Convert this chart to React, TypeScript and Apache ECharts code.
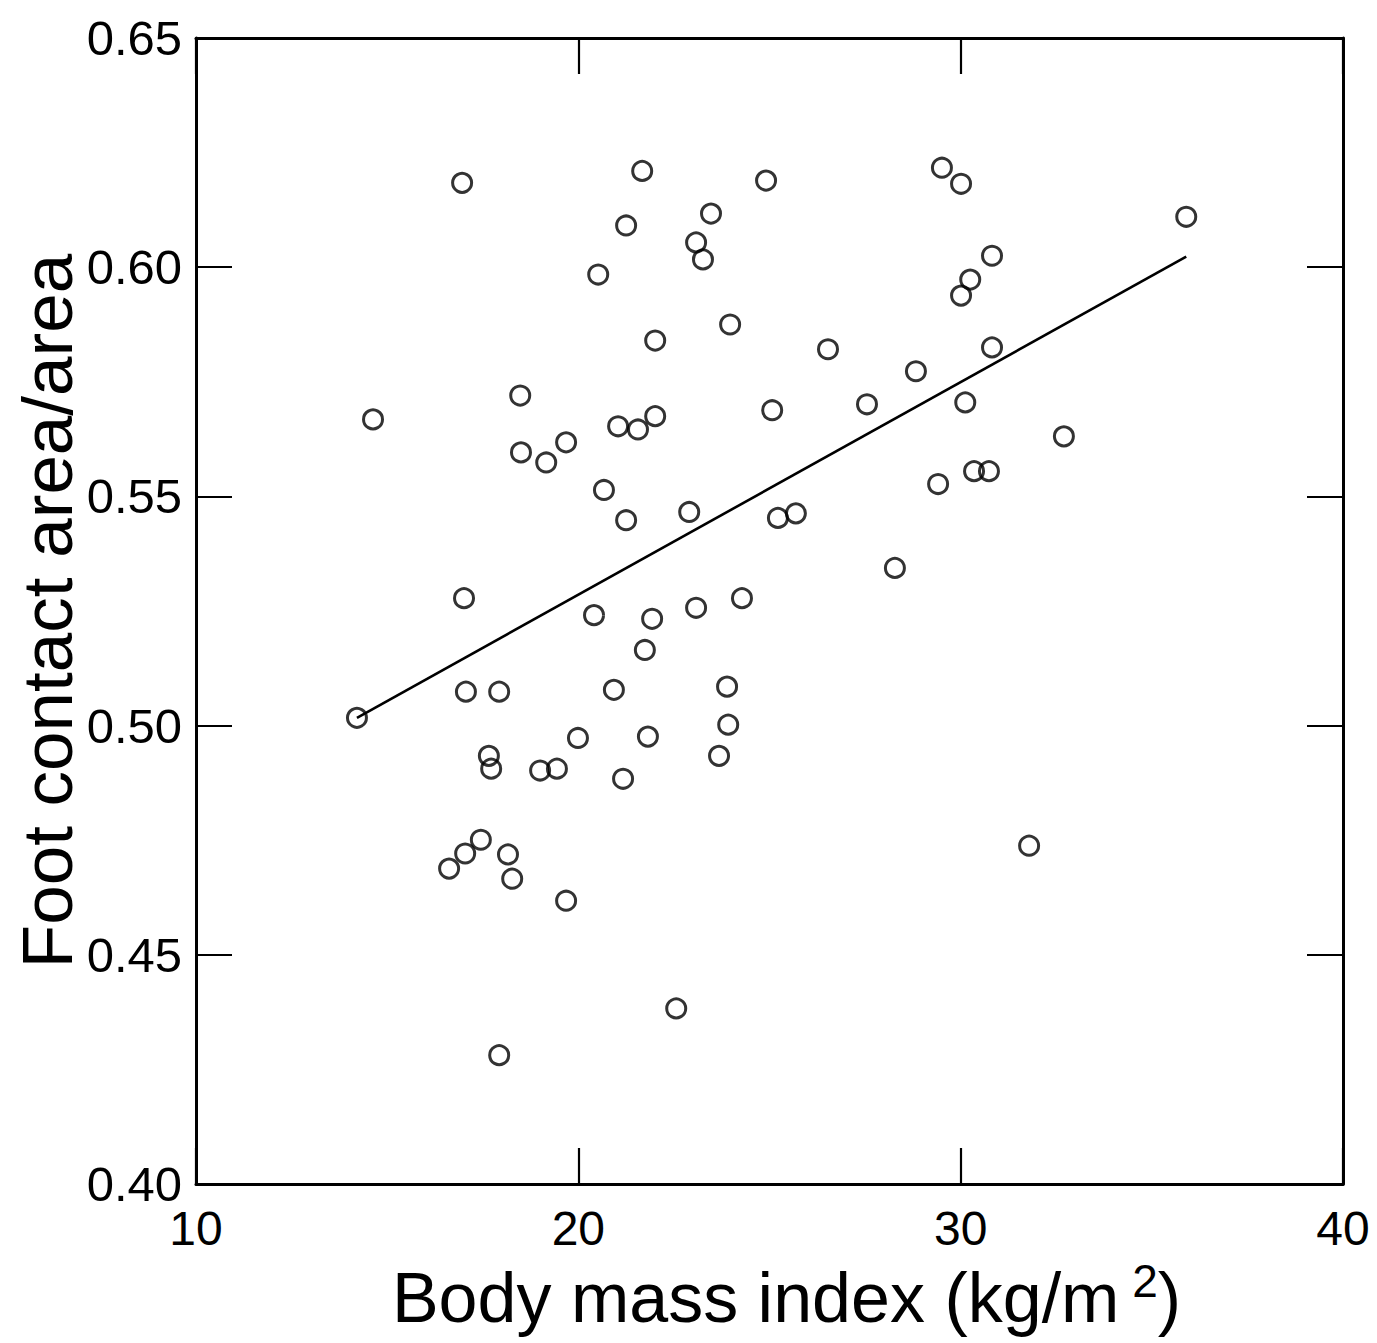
import React, { useEffect, useRef } from "react";
import * as echarts from "echarts";

const bmi = [
  16.96, 21.67, 24.91, 29.51, 30.01, 21.25, 23.47, 35.9, 23.08, 23.26,
  20.52, 30.82, 30.25, 30.01, 23.97, 22.01, 26.53, 30.82, 18.48, 28.83,
  14.63, 22.01, 27.55, 25.07, 30.12, 21.04, 21.56, 19.68, 18.5, 19.16,
  32.7, 30.35, 30.74, 20.67, 29.41, 21.25, 22.9, 25.22, 25.69, 28.28,
  17.01, 24.28, 20.41, 21.93, 23.08, 21.74, 17.06, 17.93, 20.93, 23.89,
  14.21, 23.92, 19.99, 21.82, 17.66, 17.72, 23.68, 19.0, 19.44, 21.17,
  17.45, 17.04, 16.62, 18.16, 18.27, 19.68, 31.79, 22.56, 17.93,
];

const contactRatio = [
  0.6184, 0.621, 0.6189, 0.6217, 0.6182, 0.6091, 0.6117, 0.611, 0.6054, 0.6017,
  0.5984, 0.6025, 0.5973, 0.5938, 0.5875, 0.584, 0.5821, 0.5825, 0.572, 0.5773,
  0.5668, 0.5675, 0.5701, 0.5688, 0.5705, 0.5653, 0.5646, 0.5618, 0.5596, 0.5574,
  0.5631, 0.5555, 0.5555, 0.5514, 0.5527, 0.5448, 0.5466, 0.5453, 0.5463, 0.5344,
  0.5278, 0.5278, 0.5241, 0.5233, 0.5257, 0.5165, 0.5074, 0.5074, 0.5078, 0.5085,
  0.5017, 0.5002, 0.4973, 0.4976, 0.4934, 0.4906, 0.4934, 0.4902, 0.4906, 0.4884,
  0.4751, 0.4721, 0.4688, 0.4719, 0.4666, 0.4618, 0.4738, 0.4383, 0.4281,
];

const fitX = [14.21, 35.9];
const fitY = [0.5017, 0.6023];

const xTicks = [10, 20, 30, 40];
const yTicks = [0.4, 0.45, 0.5, 0.55, 0.6, 0.65];

const FONT = "'Liberation Sans', Arial, sans-serif";

export default function App() {
  const ref = useRef<HTMLDivElement>(null);

  useEffect(() => {
    if (!ref.current) return;
    const chart = echarts.init(ref.current, null, { renderer: "svg" });
    const axisLine = { show: true, lineStyle: { color: "#000", width: 3 } };
    const axisTick = { show: true, inside: true, length: 36, lineStyle: { color: "#000", width: 2.2 } };
    chart.setOption({
      animation: false,
      backgroundColor: "#fff",
      grid: {
        left: 196,
        top: 38,
        right: 34,
        bottom: 159,
        containLabel: false,
        outerBoundsMode: "none",
      },
      xAxis: [
        {
          type: "value",
          min: xTicks[0],
          max: xTicks[xTicks.length - 1],
          interval: 10,
          position: "bottom",
          axisLine,
          axisTick,
          splitLine: { show: false },
          axisLabel: {
            color: "#000",
            fontFamily: FONT,
            fontSize: 48,
            margin: 20,
          },
          name: "{a|Body mass index (kg/m}{s| 2}{a|)}",
          nameLocation: "middle",
          nameGap: 74,
          nameMoveOverlap: false,
          nameTextStyle: {
            padding: [0, 0, 0, 34],
            rich: {
              a: { fontFamily: FONT, fontSize: 70, color: "#000", lineHeight: 80 },
              s: { fontFamily: FONT, fontSize: 46, color: "#000", lineHeight: 46, verticalAlign: "top" },
            },
          },
        },
        {
          type: "value",
          min: xTicks[0],
          max: xTicks[xTicks.length - 1],
          interval: 10,
          position: "top",
          axisLine,
          axisTick,
          splitLine: { show: false },
          axisLabel: { show: false },
        },
      ],
      yAxis: [
        {
          type: "value",
          min: yTicks[0],
          max: yTicks[yTicks.length - 1],
          interval: 0.05,
          position: "left",
          axisLine,
          axisTick,
          splitLine: { show: false },
          axisLabel: {
            color: "#000",
            fontFamily: FONT,
            fontSize: 49,
            margin: 14,
            formatter: (v: number) => v.toFixed(2),
          },
          name: "Foot contact area/area",
          nameLocation: "middle",
          nameGap: 113,
          nameMoveOverlap: false,
          nameTextStyle: { fontFamily: FONT, fontSize: 71, color: "#000" },
        },
        {
          type: "value",
          min: yTicks[0],
          max: yTicks[yTicks.length - 1],
          interval: 0.05,
          position: "right",
          axisLine,
          axisTick,
          splitLine: { show: false },
          axisLabel: { show: false },
        },
      ],
      series: [
        {
          type: "scatter",
          data: bmi.map((x, i) => [x, contactRatio[i]]),
          symbol: "circle",
          symbolSize: 19,
          itemStyle: { color: "transparent", borderColor: "#000", borderWidth: 3 },
          z: 3,
        },
        {
          type: "line",
          data: fitX.map((x, i) => [x, fitY[i]]),
          showSymbol: false,
          symbol: "none",
          lineStyle: { color: "#000", width: 2.6 },
          z: 2,
        },
      ],
    });
    return () => chart.dispose();
  }, []);

  return (
    <div
      ref={ref}
      style={{ position: "fixed", left: 0, top: 0, width: 1377, height: 1343, background: "#fff" }}
    />
  );
}
